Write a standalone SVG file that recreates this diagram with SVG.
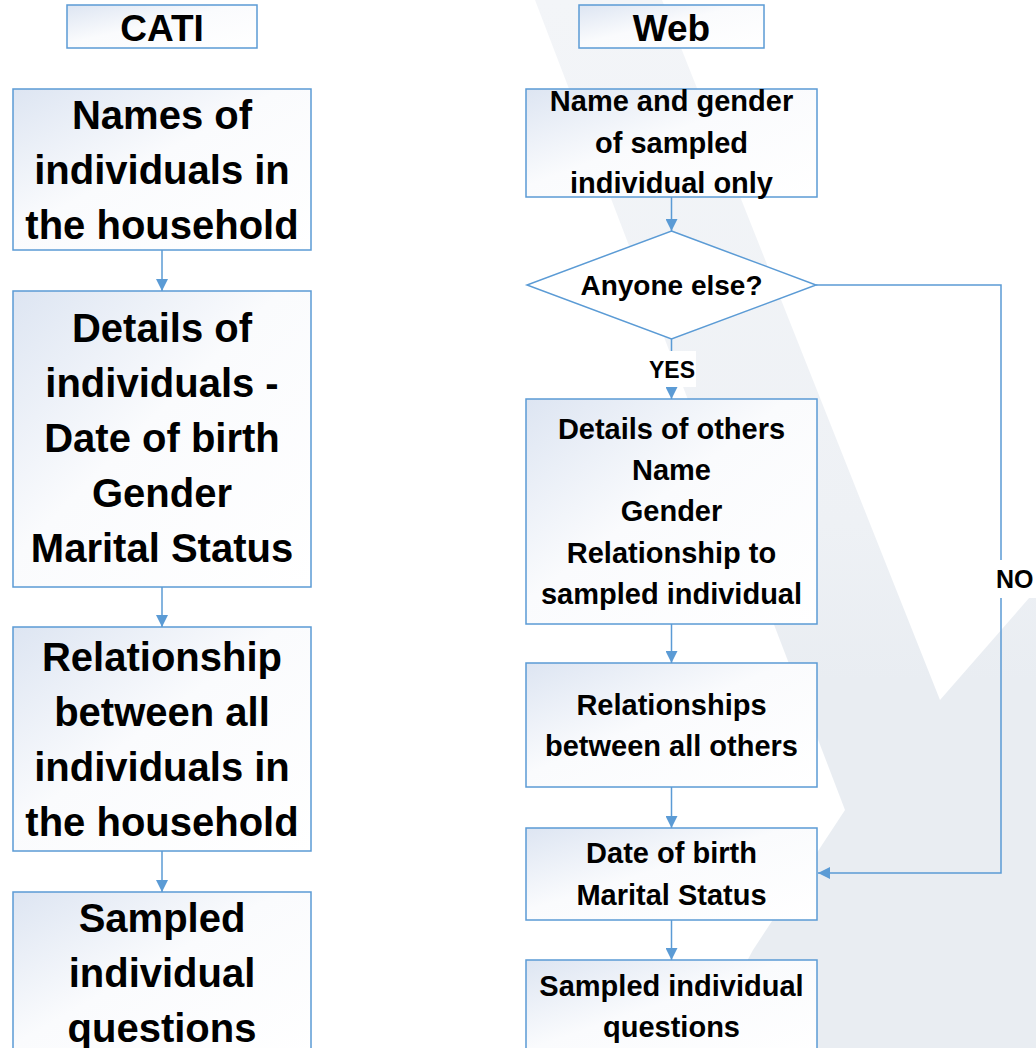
<svg xmlns="http://www.w3.org/2000/svg" width="1036" height="1048" viewBox="0 0 1036 1048">
<defs>
<linearGradient id="boxGrad" x1="0" y1="0" x2="1" y2="1">
<stop offset="0" stop-color="#dde5f2"/>
<stop offset="0.45" stop-color="#fafbfd"/>
<stop offset="1" stop-color="#ffffff"/>
</linearGradient>
<linearGradient id="wmGrad" x1="0" y1="0" x2="0" y2="1">
<stop offset="0" stop-color="#f3f5f8"/>
<stop offset="0.5" stop-color="#eef1f5"/>
<stop offset="0.65" stop-color="#e9edf2"/>
<stop offset="1" stop-color="#e9edf2"/>
</linearGradient>
<marker id="arrow" markerUnits="userSpaceOnUse" markerWidth="12" markerHeight="12" viewBox="0 0 12 12" refX="12" refY="6" orient="auto">
<path d="M0,0 L12,6 L0,12 Z" fill="#5b9bd5"/>
</marker>
<style>
.box{fill:url(#boxGrad);stroke:#5b9bd5;stroke-width:1.5}
.dia{fill:#ffffff;stroke:#5b9bd5;stroke-width:1.5}
.conn{fill:none;stroke:#5b9bd5;stroke-width:1.5;marker-end:url(#arrow)}
text{font-family:"Liberation Sans",Arial,sans-serif;font-weight:bold;fill:#000;text-anchor:middle}
.h{font-size:37px}
.c{font-size:40px}
.w{font-size:29px}
.lbl{font-size:23px}
.bg{fill:#ffffff}
</style>
</defs>
<rect x="0" y="0" width="1036" height="1048" fill="#ffffff"/>
<g id="watermark">
<path d="M535,0 L662,0 L940,700 L1036,590 L1036,1048 L700,1048 L753,950 L845,810 Z" fill="url(#wmGrad)"/>
</g>
<g id="connectors">
<line class="conn" x1="162" y1="250" x2="162" y2="291"/>
<line class="conn" x1="162" y1="587" x2="162" y2="627"/>
<line class="conn" x1="162" y1="851" x2="162" y2="892"/>
<line class="conn" x1="671.5" y1="197" x2="671.5" y2="231"/>
<line class="conn" x1="671.5" y1="339" x2="671.5" y2="399"/>
<line class="conn" x1="671.5" y1="624" x2="671.5" y2="663"/>
<line class="conn" x1="671.5" y1="787" x2="671.5" y2="828"/>
<line class="conn" x1="671.5" y1="920" x2="671.5" y2="960"/>
<polyline class="conn" points="816,285 1001,285 1001,873 818,873"/>
<g id="label-yes">
<rect class="bg" x="650" y="351" width="46" height="36"/>
<text class="lbl" x="672" y="378">YES</text>
</g>
<g id="label-no">
<rect class="bg" x="994" y="560" width="42" height="38"/>
<text class="lbl" x="996" y="588" style="text-anchor:start;font-size:25px">NO</text>
</g>
</g>
<g id="cati-header">
<rect class="box" x="67" y="5" width="190" height="43"/>
<text class="h" x="162" y="41">CATI</text>
</g>
<g id="web-header">
<rect class="box" x="579" y="5" width="185" height="43"/>
<text class="h" x="671.5" y="41">Web</text>
</g>
<g id="cati-names">
<rect class="box" x="13" y="89" width="298" height="161"/>
<text class="c" x="162" y="129">Names of</text>
<text class="c" x="162" y="184">individuals in</text>
<text class="c" x="162" y="239">the household</text>
</g>
<g id="cati-details">
<rect class="box" x="13" y="291" width="298" height="296"/>
<text class="c" x="162" y="342">Details of</text>
<text class="c" x="162" y="397">individuals -</text>
<text class="c" x="162" y="452">Date of birth</text>
<text class="c" x="162" y="507">Gender</text>
<text class="c" x="162" y="562">Marital Status</text>
</g>
<g id="cati-relationship">
<rect class="box" x="13" y="627" width="298" height="224"/>
<text class="c" x="162" y="671">Relationship</text>
<text class="c" x="162" y="726">between all</text>
<text class="c" x="162" y="781">individuals in</text>
<text class="c" x="162" y="836">the household</text>
</g>
<g id="cati-sampled">
<rect class="box" x="13" y="892" width="298" height="170"/>
<text class="c" x="162" y="932">Sampled</text>
<text class="c" x="162" y="987">individual</text>
<text class="c" x="162" y="1042">questions</text>
</g>
<g id="web-name">
<rect class="box" x="526" y="89" width="291" height="108"/>
<text class="w" x="671.5" y="111">Name and gender</text>
<text class="w" x="671.5" y="153">of sampled</text>
<text class="w" x="671.5" y="193">individual only</text>
</g>
<g id="web-anyone">
<polygon class="dia" points="671.5,231 816,285 671.5,339 527,285"/>
<text x="671.5" y="295" style="font-size:28px">Anyone else?</text>
</g>
<g id="web-details">
<rect class="box" x="526" y="399" width="291" height="225"/>
<text class="w" x="671.5" y="439">Details of others</text>
<text class="w" x="671.5" y="480">Name</text>
<text class="w" x="671.5" y="521">Gender</text>
<text class="w" x="671.5" y="563">Relationship to</text>
<text class="w" x="671.5" y="604">sampled individual</text>
</g>
<g id="web-relationships">
<rect class="box" x="526" y="663" width="291" height="124"/>
<text class="w" x="671.5" y="715">Relationships</text>
<text class="w" x="671.5" y="756">between all others</text>
</g>
<g id="web-dob">
<rect class="box" x="526" y="828" width="291" height="92"/>
<text class="w" x="671.5" y="863">Date of birth</text>
<text class="w" x="671.5" y="905">Marital Status</text>
</g>
<g id="web-sampled">
<rect class="box" x="526" y="960" width="291" height="100"/>
<text class="w" x="671.5" y="996">Sampled individual</text>
<text class="w" x="671.5" y="1037">questions</text>
</g>
</svg>
